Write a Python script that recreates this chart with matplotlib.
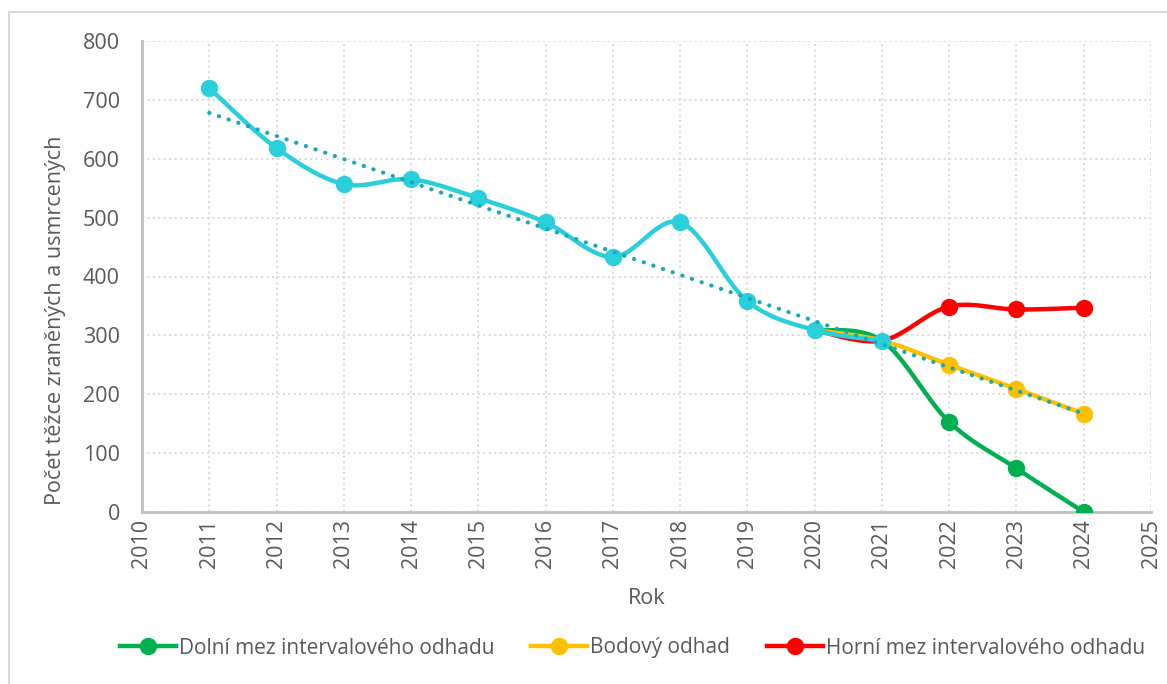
import numpy as np
import matplotlib
matplotlib.use("Agg")
import matplotlib.pyplot as plt
from matplotlib.lines import Line2D

plt.rcParams['font.family'] = ['Open Sans', 'DejaVu Sans']

# ---- data ----
years_hist = [2011, 2012, 2013, 2014, 2015, 2016, 2017, 2018, 2019, 2020, 2021]
values_hist = [720, 618, 557, 565, 533, 492, 433, 492, 358, 309, 291]

years_fc = [2020, 2021, 2022, 2023, 2024]
lower = [309, 291, 153, 74, 0]
point = [309, 291, 250, 209, 167]
upper = [309, 291, 349, 344, 347]

trend_years = [2011, 2024]
trend_values = [678, 167]

xticks = list(range(2010, 2026))
yticks = list(range(0, 801, 100))

labels = ["Dolní mez intervalového odhadu", "Bodový odhad",
          "Horní mez intervalového odhadu"]

C_CYAN = "#2ACFDC"
C_TREND = "#16A9BD"
C_GREEN = "#00B050"
C_YELLOW = "#FFC000"
C_RED = "#FF0000"
C_TEXT = "#595959"
C_GRID = "#D9D9D9"
C_AXIS = "#BFBFBF"


def smooth(xs, ys, n=30):
    """Catmull-Rom style smoothing (like Excel's smoothed line) through the points."""
    xs = np.asarray(xs, float)
    ys = np.asarray(ys, float)
    px = np.concatenate([[xs[0]], xs, [xs[-1]]])
    py = np.concatenate([[ys[0]], ys, [ys[-1]]])
    outx, outy = [], []
    t = np.linspace(0, 1, n)
    for i in range(1, len(px) - 2):
        p0x, p1x, p2x, p3x = px[i - 1], px[i], px[i + 1], px[i + 2]
        p0y, p1y, p2y, p3y = py[i - 1], py[i], py[i + 1], py[i + 2]
        c1x = p1x + (p2x - p0x) / 6
        c1y = p1y + (p2y - p0y) / 6
        c2x = p2x - (p3x - p1x) / 6
        c2y = p2y - (p3y - p1y) / 6
        bx = (1 - t) ** 3 * p1x + 3 * (1 - t) ** 2 * t * c1x + 3 * (1 - t) * t ** 2 * c2x + t ** 3 * p2x
        by = (1 - t) ** 3 * p1y + 3 * (1 - t) ** 2 * t * c1y + 3 * (1 - t) * t ** 2 * c2y + t ** 3 * p2y
        outx.extend(bx)
        outy.extend(by)
    return np.array(outx), np.array(outy)


fig = plt.figure(figsize=(11.67, 6.84), dpi=100)
ax = fig.add_axes([142 / 1167, 1 - 512 / 684, (1151 - 142) / 1167, (512 - 41) / 684])

LW = 3.2
MS = 11.5

for ys, col in [(lower, C_GREEN), (point, C_YELLOW), (upper, C_RED)]:
    sx, sy = smooth(years_fc, ys)
    ax.plot(sx, sy, color=col, lw=LW, solid_capstyle='round', zorder=3)
    ax.plot(years_fc[2:], ys[2:], 'o', color=col, ms=MS, zorder=4)

sx, sy = smooth(years_hist, values_hist)
ax.plot(sx, sy, color=C_CYAN, lw=LW, solid_capstyle='round', zorder=5)
ax.plot(years_hist, values_hist, 'o', color=C_CYAN, ms=MS, zorder=6)

ax.plot(trend_years, trend_values, color=C_TREND, lw=3,
        linestyle=(0, (0.05, 2.4)), dash_capstyle='round', zorder=7)

ax.set_xlim(2010, 2025)
ax.set_ylim(0, 800)
ax.set_xticks(xticks)
ax.set_xticklabels([str(x) for x in xticks], rotation=90)
ax.set_yticks(yticks)
ax.grid(True, color=C_GRID, linestyle=(0, (1.2, 1.8)), lw=1.3)
ax.set_axisbelow(True)
for s in ['top', 'right']:
    ax.spines[s].set_visible(False)
for s in ['left', 'bottom']:
    ax.spines[s].set_color(C_AXIS)
    ax.spines[s].set_linewidth(2)
ax.tick_params(length=0, labelsize=15.5, labelcolor=C_TEXT)
ax.tick_params(axis='x', pad=5)
ax.tick_params(axis='y', pad=16)

ax.set_xlabel("Rok", fontsize=15.5, color=C_TEXT)
ax.xaxis.set_label_coords(0.5, (512 - 588) / 471)
ax.set_ylabel("Počet těžce zraněných a usmrcených", fontsize=15.5, color=C_TEXT)
ax.yaxis.set_label_coords(-0.075, (512 - 320) / 471)

handles = [Line2D([0], [0], color=c, lw=LW, marker='o', ms=MS)
           for c in (C_GREEN, C_YELLOW, C_RED)]
leg = fig.legend(handles, labels, loc='center', bbox_to_anchor=(0.542, 1 - 648 / 684),
                 ncol=3, frameon=False, fontsize=15, handlelength=2.7,
                 handletextpad=0.15, columnspacing=1.75, labelcolor=C_TEXT)

# chart border (top and left visible)
fig.add_artist(Line2D([9 / 1167, 9 / 1167], [0, 1 - 12 / 684], color="#D9D9D9", lw=1.5,
                      transform=fig.transFigure))
fig.add_artist(Line2D([9 / 1167, 1], [1 - 12 / 684, 1 - 12 / 684], color="#D9D9D9", lw=1.5,
                      transform=fig.transFigure))

fig.savefig("out.png", dpi=100)
